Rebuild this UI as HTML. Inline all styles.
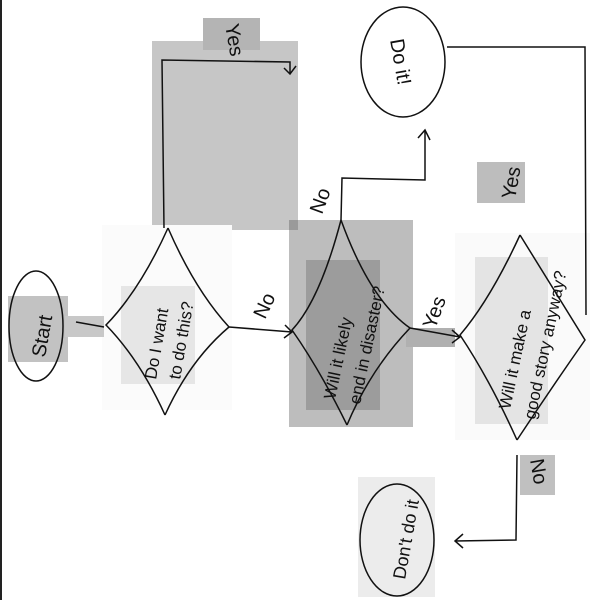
<!DOCTYPE html>
<html><head><meta charset="utf-8"><style>
html,body{margin:0;padding:0;background:#fff;width:600px;height:600px;overflow:hidden}
svg{display:block}
text{font-family:"Liberation Sans",sans-serif;fill:#111}
</style></head><body>
<svg width="600" height="600" viewBox="0 0 600 600">
<rect x="0" y="0" width="600" height="600" fill="#fff"/>
<line x1="1" y1="0" x2="1" y2="600" stroke="#222" stroke-width="2"/>
<!-- highlight boxes -->
<rect x="152" y="41" width="146" height="189" fill="#c6c6c6"/>
<rect x="203" y="18" width="57" height="32" fill="#b4b4b4"/>
<rect x="102" y="225" width="130" height="185" fill="#fbfbfb"/>
<rect x="121" y="286" width="74" height="98" fill="#e6e6e6"/>
<rect x="8" y="296" width="60" height="66" fill="#c2c2c2"/>
<rect x="65" y="316" width="39" height="21" fill="#c8c8c8"/>
<rect x="289" y="220" width="124" height="207" fill="#bdbdbd"/>
<rect x="289" y="220" width="9" height="10" fill="#9a9a9a"/>
<rect x="306" y="260" width="74" height="150" fill="#9c9c9c"/>
<rect x="406" y="328" width="54" height="19" fill="#b0b0b0"/>
<rect x="455" y="233" width="135" height="207" fill="#fafafa"/>
<rect x="475" y="257" width="73" height="167" fill="#e4e4e4"/>
<rect x="477" y="162" width="48" height="41" fill="#bdbdbd"/>
<rect x="520" y="455" width="35" height="40" fill="#c0c0c0"/>
<rect x="358" y="477" width="77" height="120" fill="#ececec"/>
<g fill="none" stroke="#111" stroke-width="1.5">
<ellipse cx="36" cy="326" rx="27" ry="55"/>
<path d="M168,228 Q140,290 106,325 Q140,360 165,415 M168,228 Q195,290 229,327 Q190,360 165,415"/>
<path d="M341,220 Q320,300 292,330 Q320,370 347,425 M341,220 Q370,300 410,328 Q370,370 347,425"/>
<path d="M520,235 Q490,300 460,335 Q490,380 517,440 M520,235 Q560,300 585,340 Q550,390 517,440"/>
<ellipse cx="403" cy="62" rx="42" ry="55"/>
<ellipse cx="397" cy="540" rx="37" ry="56"/>
<path d="M76,322 L104,327"/>
<path d="M229,327 L292,332 M285,325 L292,332 L284,338"/>
<path d="M164,228 L162,60 L290,62 L290,74 M284,68 L290,74 L296,66"/>
<path d="M341,220 L342,178 L425,180 L425,130 M418,138 L425,130 L430,140"/>
<path d="M410,328 L460,337 M452,330 L460,337 L452,343"/>
<path d="M447,47 L585,47 L586,315"/>
<path d="M517,455 L516,540 L455,541 M463,534 L455,541 L463,548"/>
</g>
<g font-size="20">
<text transform="translate(45,358) rotate(-80)">Start</text>
<text transform="translate(156,380) rotate(-80)" font-size="17">Do I want</text>
<text transform="translate(180,380) rotate(-80)" font-size="17">to do this?</text>
<text transform="translate(265,320) rotate(-65)">No</text>
<text transform="translate(225,25) rotate(80)">Yes</text>
<text transform="translate(322,215) rotate(-70)">No</text>
<text transform="translate(335,400) rotate(-78)" font-size="17">Will it likely</text>
<text transform="translate(360,405) rotate(-78)" font-size="17">end in disaster?</text>
<text transform="translate(435,330) rotate(-70)">Yes</text>
<text transform="translate(510,410) rotate(-78)" font-size="17">Will it make a</text>
<text transform="translate(535,420) rotate(-78)" font-size="17">good story anyway?</text>
<text transform="translate(515,200) rotate(-80)">Yes</text>
<text transform="translate(530,460) rotate(80)">No</text>
<text transform="translate(390,40) rotate(80)">Do it!</text>
<text transform="translate(405,580) rotate(-80)" font-size="18">Don't do it</text>
</g>
</svg>
</body></html>
